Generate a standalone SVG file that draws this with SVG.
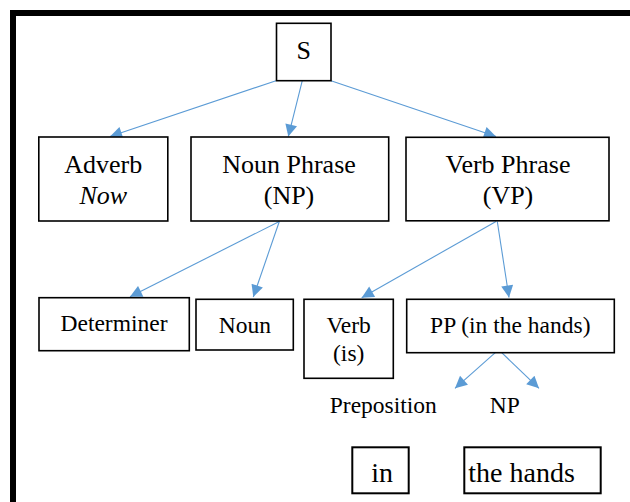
<svg xmlns="http://www.w3.org/2000/svg" width="630" height="502" viewBox="0 0 630 502">
<style>
.box{fill:#fff;stroke:#000;stroke-width:1.6}
.box2{fill:#fff;stroke:#000;stroke-width:2}
.t1{font-family:"Liberation Serif","Times New Roman",serif;font-size:26px;fill:#000;text-anchor:middle}
.t2{font-family:"Liberation Serif","Times New Roman",serif;font-size:23.5px;fill:#000;text-anchor:middle}
.t3{font-family:"Liberation Serif","Times New Roman",serif;font-size:28px;fill:#000}
.c{stroke:#5B9BD5;stroke-width:1.1;fill:none;marker-end:url(#ah)}
</style>
<defs>
<marker id="ah" viewBox="0 0 10 10" refX="10" refY="5" markerWidth="14" markerHeight="12" markerUnits="userSpaceOnUse" orient="auto">
<path d="M0,0 L10,5 L0,10 z" fill="#5B9BD5"/>
</marker>
</defs>
<rect width="630" height="502" fill="#fff"/>
<rect id="frame" x="13" y="13" width="700" height="600" fill="none" stroke="#000" stroke-width="6"/>
<g id="connectors">
<line class="c" x1="276" y1="80.7" x2="110" y2="136.5"/>
<line class="c" x1="302.3" y1="80.7" x2="288.3" y2="136.5"/>
<line class="c" x1="331" y1="80.7" x2="496" y2="136.5"/>
<line class="c" x1="279.3" y1="221.5" x2="130" y2="296.7"/>
<line class="c" x1="279.3" y1="221.5" x2="253.3" y2="297"/>
<line class="c" x1="496" y1="221.5" x2="361.7" y2="297.7"/>
<line class="c" x1="497.3" y1="221.5" x2="509" y2="297.5"/>
<line class="c" x1="495.3" y1="352.7" x2="455" y2="388.3"/>
<line class="c" x1="501.7" y1="352.7" x2="539" y2="388.3"/>
</g>
<g id="S">
<rect class="box" x="276.5" y="23.3" width="54.5" height="57.4"/>
<text class="t1" x="303.8" y="59.3">S</text>
</g>
<g id="adverb">
<rect class="box" x="38.8" y="137" width="129" height="84"/>
<text class="t1" x="103.3" y="173.3">Adverb</text>
<text class="t1" x="103.3" y="204" font-style="italic">Now</text>
</g>
<g id="np">
<rect class="box" x="191" y="137" width="197.7" height="84"/>
<text class="t1" x="289" y="173.3">Noun Phrase</text>
<text class="t1" x="289" y="204">(NP)</text>
</g>
<g id="vp">
<rect class="box" x="406" y="137.3" width="203" height="83.5"/>
<text class="t1" x="508" y="173.3">Verb Phrase</text>
<text class="t1" x="508" y="204">(VP)</text>
</g>
<g id="determiner">
<rect class="box" x="39" y="297.7" width="150.3" height="53"/>
<text class="t2" x="114" y="331">Determiner</text>
</g>
<g id="noun">
<rect class="box" x="196" y="299.3" width="97.3" height="50.7"/>
<text class="t2" x="244.8" y="332.7">Noun</text>
</g>
<g id="verb">
<rect class="box" x="304" y="299.3" width="89.3" height="79"/>
<text class="t2" x="348.7" y="332.7">Verb</text>
<text class="t2" x="348.7" y="361">(is)</text>
</g>
<g id="pp">
<rect class="box" x="406.7" y="299.3" width="207.6" height="53.4"/>
<text class="t2" x="510.3" y="333.3">PP (in the hands)</text>
</g>
<g id="preposition">
<text class="t2" x="383.3" y="412.7">Preposition</text>
</g>
<g id="np2">
<text class="t2" x="504.7" y="412.7">NP</text>
</g>
<g id="in">
<rect class="box2" x="352.3" y="447.3" width="56.4" height="46"/>
<text class="t3" x="382.2" y="481.7" text-anchor="middle">in</text>
</g>
<g id="thehands">
<rect class="box2" x="464.3" y="447.3" width="136.4" height="46"/>
<text class="t3" x="468.3" y="481.7">the hands</text>
</g>
</svg>
